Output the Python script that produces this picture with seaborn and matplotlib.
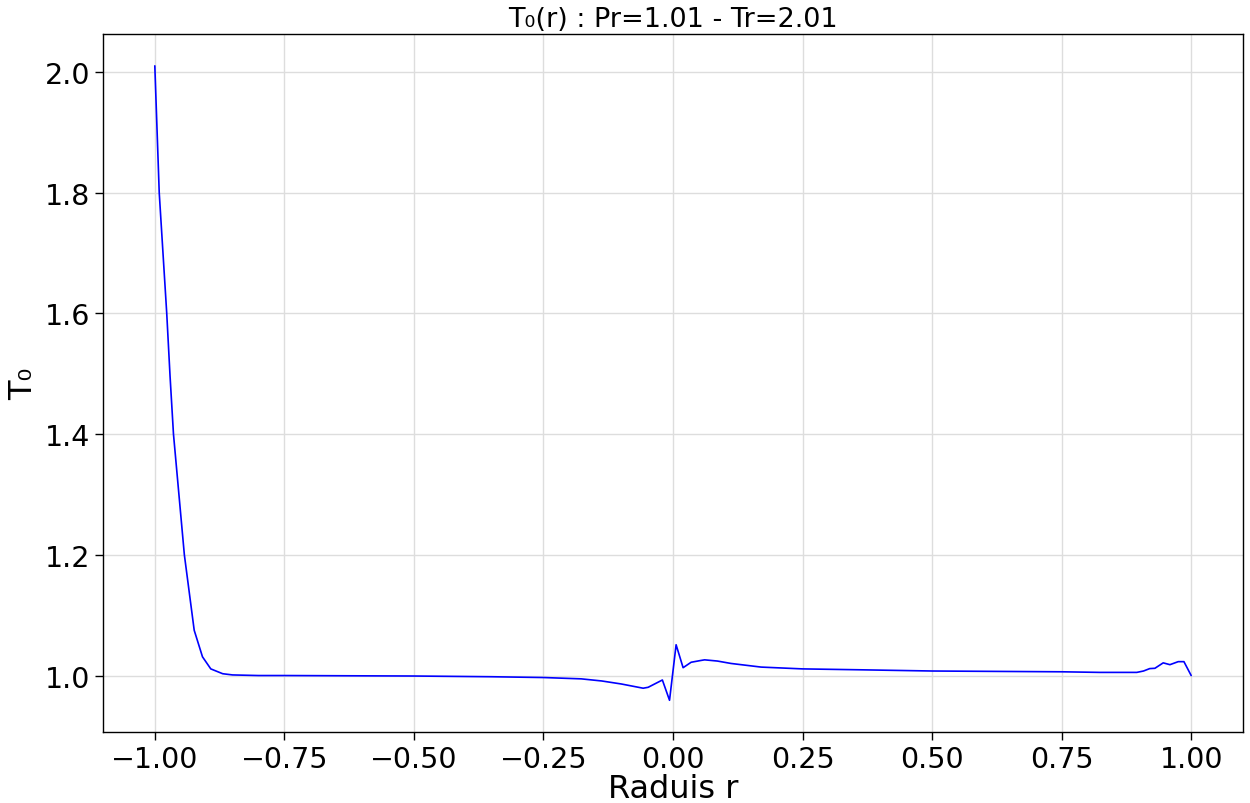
import numpy as np
import matplotlib
matplotlib.use("Agg")
import matplotlib.pyplot as plt
import seaborn as sns
import pandas as pd

# radius values
r = [-1.0, -0.9915, -0.977, -0.9706, -0.964, -0.943, -0.924, -0.908, -0.892,
     -0.869, -0.85, -0.80, -0.75, -0.60, -0.50, -0.35, -0.25, -0.177, -0.1375,
     -0.0997, -0.0576, -0.048, -0.0205, -0.0067, 0.006, 0.0195, 0.035, 0.054,
     0.061, 0.0857, 0.112, 0.170, 0.25, 0.362, 0.5, 0.75, 0.824, 0.895, 0.908,
     0.920, 0.930, 0.946, 0.959, 0.975, 0.986, 1.0]
# temperature T0 values
t0 = [2.01, 1.80, 1.60, 1.496, 1.40, 1.20, 1.075, 1.031, 1.011,
      1.003, 1.001, 1.0, 1.0, 0.9995, 0.9992, 0.998, 0.9967, 0.9945, 0.991,
      0.986, 0.979, 0.9805, 0.9926, 0.959, 1.051, 1.013, 1.022, 1.025,
      1.026, 1.024, 1.020, 1.014, 1.011, 1.0095, 1.0075, 1.0062, 1.0052, 1.0052, 1.0075,
      1.0115, 1.012, 1.021, 1.018, 1.023, 1.023, 1.0]

df = pd.DataFrame({"r": r, "T0": t0})

sns.set_style("ticks")
plt.rcParams["font.family"] = ["DejaVu Sans"]
plt.rcParams["text.color"] = "black"
plt.rcParams["axes.labelcolor"] = "black"

fig = plt.figure(figsize=(12.5, 8.04), dpi=100)
ax = fig.add_axes([0.0824, 0.0883, 0.912, 0.868])
sns.lineplot(data=df, x="r", y="T0", color="blue", linewidth=1.2, sort=False, ax=ax)

ax.grid(True, color="#dddddd", linewidth=1.0)
ax.set_axisbelow(True)
for s in ax.spines.values():
    s.set_color("black")
    s.set_linewidth(1.0)

ax.set_xticks([-1.0, -0.75, -0.5, -0.25, 0.0, 0.25, 0.5, 0.75, 1.0])
ax.set_yticks([1.0, 1.2, 1.4, 1.6, 1.8, 2.0])
ax.tick_params(labelsize=20.5, length=5.5, width=1, colors="black")
ax.set_title("T\u2080(r) : Pr=1.01 - Tr=2.01", fontsize=19.5, color="black")
ax.set_xlabel("Raduis r", fontsize=23, labelpad=0)
ax.set_ylabel("T\u2080", fontsize=23)

plt.savefig("out.png", dpi=100)
